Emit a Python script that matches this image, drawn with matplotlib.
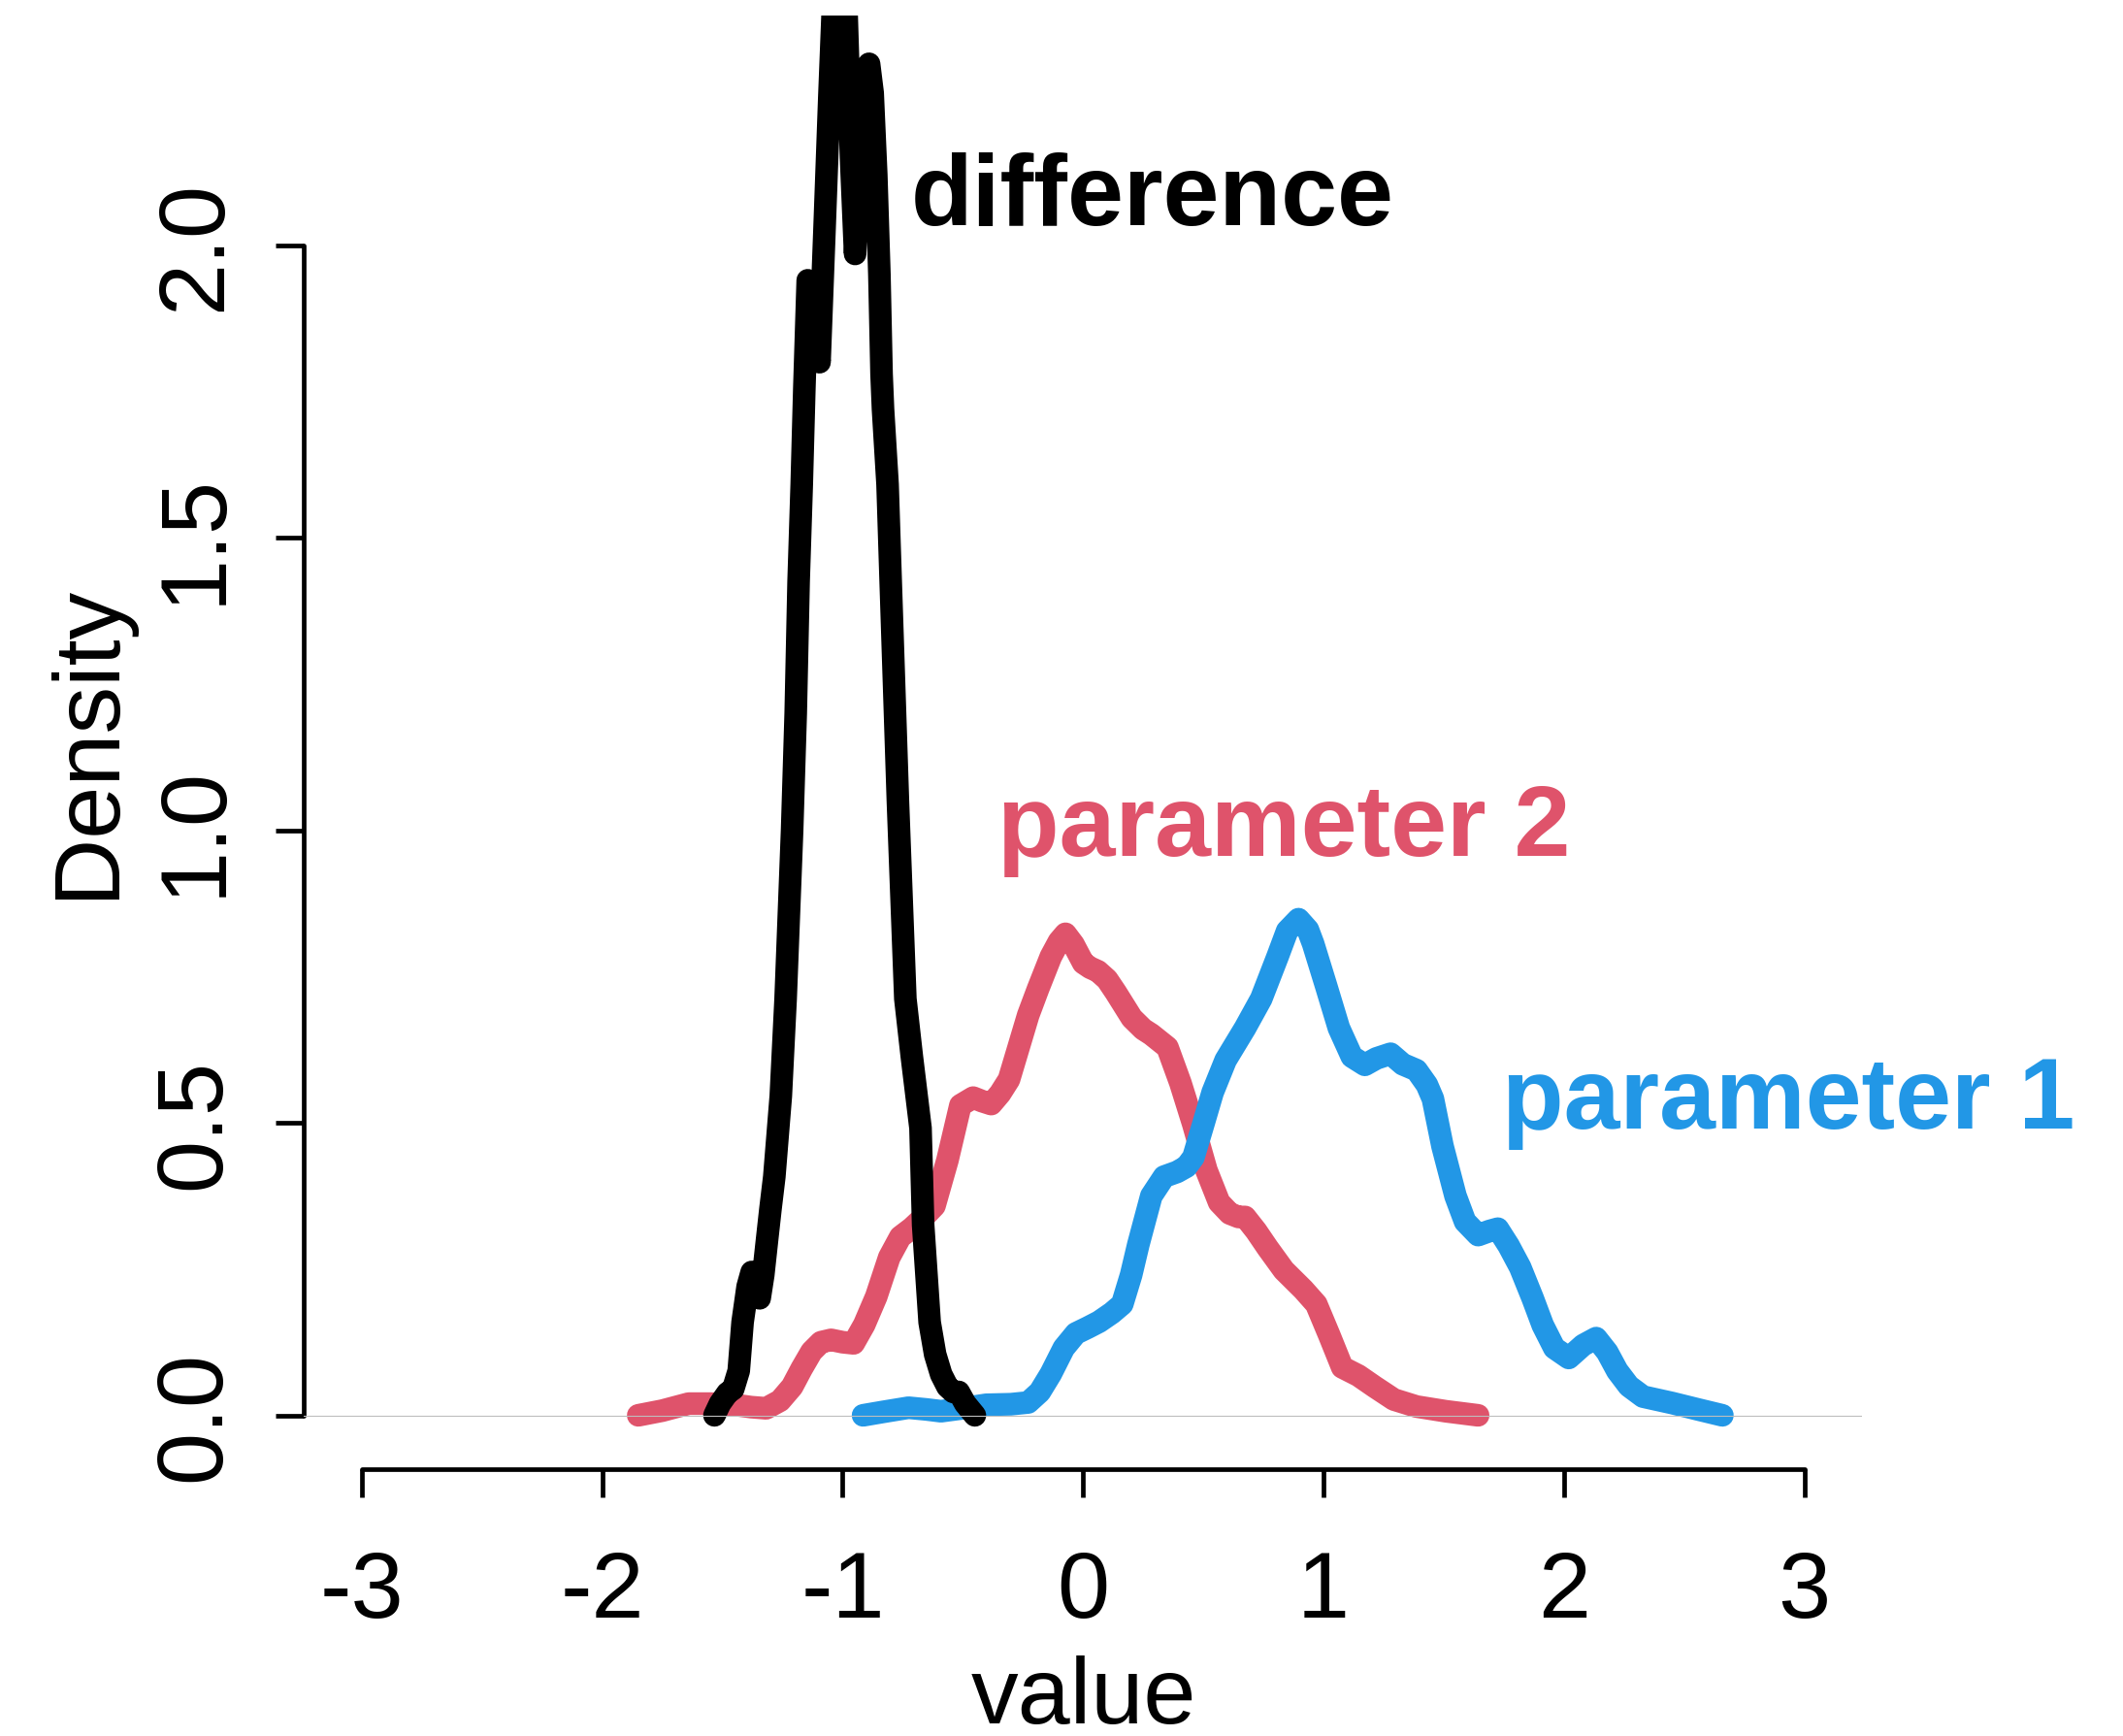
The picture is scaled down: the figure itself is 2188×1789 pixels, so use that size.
import matplotlib
matplotlib.use("Agg")
import matplotlib.pyplot as plt

plt.rcParams['font.family'] = ['Liberation Sans', 'DejaVu Sans']

# Kernel density estimates (value, density) for each series
diff_x = [-1.533, -1.51, -1.479, -1.455, -1.432, -1.416, -1.395, -1.378, -1.36, -1.345,
          -1.33, -1.315, -1.30, -1.284, -1.257, -1.237, -1.21, -1.195, -1.183, -1.170,
          -1.159, -1.145, -1.12, -1.096, -1.075, -1.055, -1.042, -1.012, -0.983, -0.965,
          -0.948, -0.925, -0.905, -0.89, -0.875, -0.86, -0.847, -0.838, -0.832, -0.813,
          -0.80, -0.77, -0.739, -0.712, -0.676, -0.665, -0.638, -0.615, -0.59, -0.564,
          -0.54, -0.517, -0.49, -0.45]
diff_y = [0.0, 0.02, 0.038, 0.045, 0.076, 0.159, 0.22, 0.245, 0.225, 0.20,
          0.24, 0.297, 0.353, 0.408, 0.546, 0.712, 1.0, 1.2, 1.425, 1.591,
          1.757, 1.94, 1.90, 1.80, 2.03, 2.255, 2.39, 2.6, 2.39, 2.15,
          1.985, 2.18, 2.29, 2.31, 2.26, 2.12, 1.95, 1.78, 1.72, 1.591,
          1.425, 1.05, 0.712, 0.613, 0.491, 0.325, 0.159, 0.104, 0.07, 0.049,
          0.04, 0.04, 0.02, 0.0]

p2_x = [-1.85, -1.75, -1.64, -1.55, -1.45, -1.38, -1.318, -1.26, -1.21, -1.17,
        -1.129, -1.09, -1.048, -1.0, -0.954, -0.91, -0.86, -0.806, -0.76, -0.712,
        -0.66, -0.618, -0.564, -0.51, -0.457, -0.42, -0.382, -0.345, -0.308, -0.228,
        -0.187, -0.134, -0.10, -0.073, -0.04, 0.001, 0.03, 0.062, 0.10, 0.136,
        0.203, 0.25, 0.284, 0.351, 0.405, 0.459, 0.513, 0.566, 0.61, 0.647,
        0.674, 0.72, 0.768, 0.835, 0.916, 0.97, 1.024, 1.078, 1.145, 1.212,
        1.293, 1.387, 1.508, 1.643]
p2_y = [0.0, 0.008, 0.02, 0.02, 0.018, 0.014, 0.012, 0.025, 0.049, 0.08,
        0.109, 0.125, 0.129, 0.125, 0.123, 0.155, 0.203, 0.27, 0.305, 0.32,
        0.34, 0.358, 0.436, 0.53, 0.543, 0.537, 0.532, 0.55, 0.574, 0.684,
        0.729, 0.784, 0.81, 0.823, 0.805, 0.773, 0.765, 0.759, 0.745, 0.723,
        0.679, 0.66, 0.651, 0.629, 0.568, 0.497, 0.419, 0.364, 0.345, 0.339,
        0.339, 0.315, 0.286, 0.248, 0.215, 0.19, 0.137, 0.082, 0.068, 0.049,
        0.027, 0.015, 0.007, 0.0]

p1_x = [-0.915, -0.83, -0.726, -0.65, -0.591, -0.50, -0.403, -0.30, -0.228, -0.18,
        -0.134, -0.08, -0.03, 0.02, 0.067, 0.12, 0.163, 0.20, 0.23, 0.284,
        0.337, 0.391, 0.43, 0.459, 0.499, 0.539, 0.593, 0.674, 0.741, 0.809,
        0.849, 0.896, 0.935, 0.957, 1.011, 1.064, 1.118, 1.172, 1.22, 1.279,
        1.33, 1.387, 1.43, 1.455, 1.495, 1.549, 1.589, 1.643, 1.69, 1.725,
        1.77, 1.818, 1.87, 1.912, 1.96, 2.02, 2.08, 2.134, 2.18, 2.222,
        2.27, 2.329, 2.45, 2.558, 2.659]
p1_y = [0.0, 0.006, 0.013, 0.01, 0.007, 0.012, 0.018, 0.019, 0.022, 0.04,
        0.071, 0.115, 0.14, 0.15, 0.16, 0.175, 0.19, 0.24, 0.292, 0.375,
        0.408, 0.416, 0.425, 0.441, 0.496, 0.552, 0.607, 0.662, 0.712, 0.784,
        0.828, 0.848, 0.83, 0.806, 0.734, 0.662, 0.613, 0.599, 0.61, 0.618,
        0.60, 0.59, 0.565, 0.541, 0.46, 0.375, 0.331, 0.308, 0.315, 0.319,
        0.29, 0.253, 0.20, 0.154, 0.115, 0.098, 0.12, 0.132, 0.108, 0.076,
        0.05, 0.032, 0.021, 0.01, 0.0]

x_ticks = [-3, -2, -1, 0, 1, 2, 3]
x_tick_labels = ['-3', '-2', '-1', '0', '1', '2', '3']
y_ticks = [0.0, 0.5, 1.0, 1.5, 2.0]
y_tick_labels = ['0.0', '0.5', '1.0', '1.5', '2.0']

red = '#DF536B'
blue = '#2297E6'

fig = plt.figure(figsize=(21.88, 17.90), dpi=100)
ax = fig.add_axes([0.1432, 0.15363, 0.7339, 0.8367])

line_kw = dict(lw=16.8, solid_capstyle='round', solid_joinstyle='round')
ax.plot(p2_x, p2_y, color=red, zorder=2, **line_kw)
ax.plot(p1_x, p1_y, color=blue, zorder=3, **line_kw)
ax.plot(diff_x, diff_y, color='black', zorder=4, **line_kw)
ax.axhline(0, color='#BEBEBE', lw=0.8, zorder=5)

ax.text(0.29, 2.036, 'difference', fontsize=75, fontweight='bold',
        color='black', ha='center', va='baseline')
ax.text(0.836, 0.958, 'parameter 2', fontsize=75, fontweight='bold',
        color=red, ha='center', va='baseline')
ax.text(2.935, 0.491, 'parameter 1', fontsize=75, fontweight='bold',
        color=blue, ha='center', va='baseline', clip_on=False)

ax.set_xlim(-3.24, 3.24)
ax.set_ylim(-0.092, 2.392)

# base-graphics style axes: no box, axis lines only across the tick range
for side in ['top', 'right']:
    ax.spines[side].set_visible(False)
ax.spines['left'].set_bounds(0, 2)
ax.spines['bottom'].set_bounds(-3, 3)
for side in ['left', 'bottom']:
    ax.spines[side].set_linewidth(3.4)
    ax.spines[side].set_capstyle('round')

ax.set_xticks(x_ticks)
ax.set_xticklabels(x_tick_labels)
ax.set_yticks(y_ticks)
ax.set_yticklabels(y_tick_labels, rotation=90, va='center')
ax.tick_params(axis='both', direction='out', length=21, width=3.4, labelsize=70)
ax.tick_params(axis='x', pad=38)
ax.tick_params(axis='y', pad=27)

fig.text(1117 / 2188, 1 - 1776 / 1790, 'value', fontsize=70,
         ha='center', va='baseline')
fig.text(116 / 2188, 1 - 764 / 1790, 'Density', fontsize=70, rotation=90,
         rotation_mode='anchor', ha='center', va='baseline')

fig.savefig('out.png', dpi=100, facecolor='white')
